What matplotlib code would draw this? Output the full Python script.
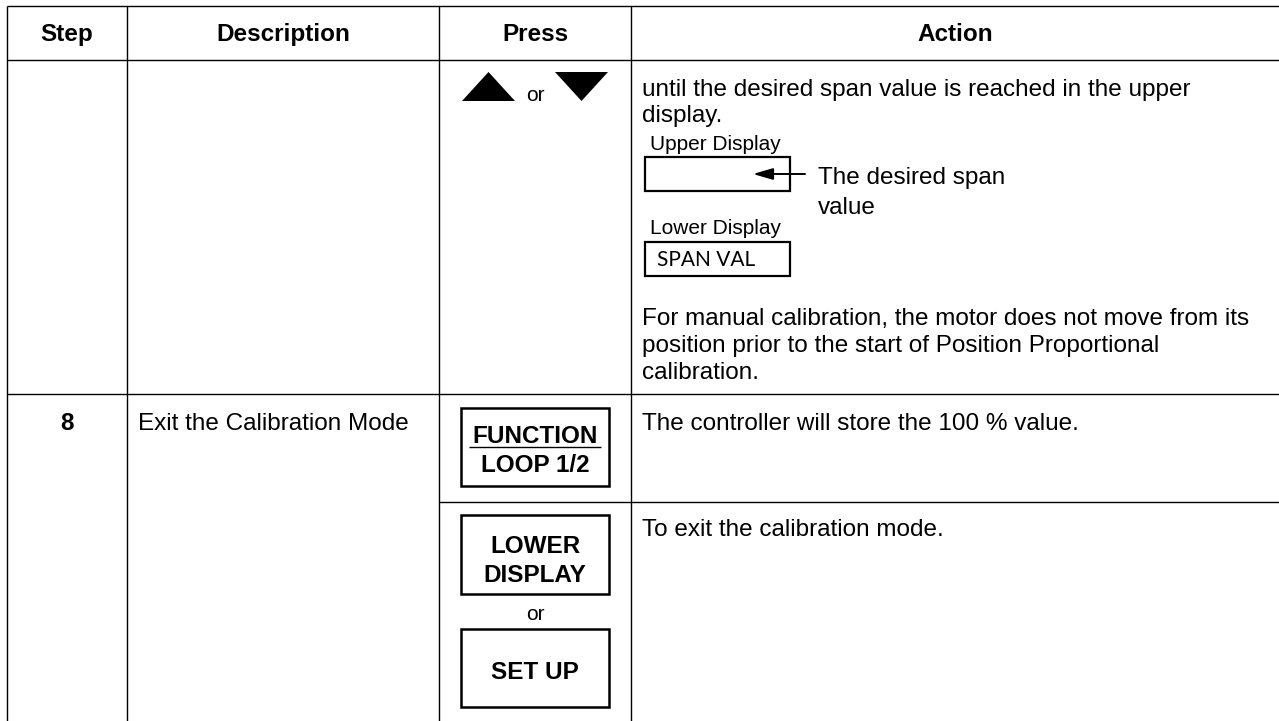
import matplotlib
matplotlib.use("Agg")
import matplotlib.pyplot as plt
from matplotlib.patches import Rectangle, Polygon

# ---- table content ----
headers = ["Step", "Description", "Press", "Action"]
step_numbers = ["", "8"]
descriptions = ["", "Exit the Calibration Mode"]
action_row1_para1 = ["until the desired span value is reached in the upper", "display."]
action_row1_para2 = ["For manual calibration, the motor does not move from its",
                     "position prior to the start of Position Proportional",
                     "calibration."]
upper_display_label = "Upper Display"
lower_display_label = "Lower Display"
lower_display_text = "SPAN VAL"
callout_text = ["The desired span", "value"]
press_or = "or"
key_function = ["FUNCTION", "LOOP 1/2"]
key_lower = ["LOWER", "DISPLAY"]
key_setup = "SET UP"
action_row2 = "The controller will store the 100 % value."
action_row3 = "To exit the calibration mode."

W, H = 1279, 721
fig = plt.figure(figsize=(W / 100, H / 100), dpi=100)
ax = fig.add_axes([0, 0, 1, 1])
ax.set_xlim(0, W)
ax.set_ylim(H, 0)
ax.axis("off")

FONT = "Liberation Sans"
BODY = 17.5
SMALL = 15
LW = 1.0

# column boundaries
x_left, x_c1, x_c2, x_c3, x_right = 7, 127, 439, 631, W
y_top, y_head, y_row1, y_sub = 6, 60, 394, 502

def hline(y, x0, x1):
    ax.plot([x0, x1], [y, y], color="black", lw=LW, solid_capstyle="butt")

def vline(x, y0, y1):
    ax.plot([x, x], [y0, y1], color="black", lw=LW, solid_capstyle="butt")

hline(y_top, x_left, x_right)
hline(y_head, x_left, x_right)
hline(y_row1, x_left, x_right)
hline(y_sub, x_c2, x_right)
for xv in (x_left, x_c1, x_c2, x_c3):
    vline(xv, y_top, H)

def txt(x, y, s, size=BODY, weight="normal", ha="left", family=FONT, **kw):
    ax.text(x, y, s, fontsize=size, fontweight=weight, ha=ha, va="baseline",
            family=family, color="black", **kw)

# header
head_x = [(x_left + x_c1) / 2, (x_c1 + x_c2) / 2, (x_c2 + x_c3) / 2, (x_c3 + x_right) / 2]
for hx, h in zip(head_x, headers):
    txt(hx, 41, h, weight="bold", ha="center")

pc = (x_c2 + x_c3) / 2
ax_ = x_c3 + 11

# row 1: press arrows
ax.add_patch(Polygon([[462, 101], [515, 101], [488.5, 72]], closed=True, color="black", lw=0))
ax.add_patch(Polygon([[555, 72], [608, 72], [581.5, 101]], closed=True, color="black", lw=0))
txt(pc, 101, press_or, size=SMALL, ha="center")

# row 1: action
for i, s in enumerate(action_row1_para1):
    txt(ax_, 96 + 26 * i, s)
txt(650, 150, upper_display_label, size=SMALL)
ax.add_patch(Rectangle((645, 157), 145, 34, fill=False, ec="black", lw=1.6))
ax.annotate("", xy=(753, 174), xytext=(805, 174),
            arrowprops=dict(arrowstyle="-|>,head_length=1.2,head_width=0.35", color="black", lw=1.4,
                            shrinkA=0, shrinkB=0))
txt(818, 184, callout_text[0])
txt(818, 214, callout_text[1])
txt(650, 234, lower_display_label, size=SMALL)
ax.add_patch(Rectangle((645, 242), 145, 34, fill=False, ec="black", lw=1.6))
txt(657, 266, lower_display_text, size=SMALL, family="Lato")
for i, s in enumerate(action_row1_para2):
    txt(ax_, 325 + 27 * i, s)

# row 2
txt((x_left + x_c1) / 2, 430, step_numbers[1], weight="bold", ha="center")
txt(x_c1 + 11, 430, descriptions[1])
ax.add_patch(Rectangle((461, 408), 148, 78, fill=False, ec="black", lw=1.8))
txt(pc, 443, key_function[0], weight="bold", ha="center")
hline(447, 469, 601)
txt(pc, 472, key_function[1], weight="bold", ha="center")
txt(ax_, 430, action_row2)

# row 3
ax.add_patch(Rectangle((461, 515), 148, 79, fill=False, ec="black", lw=1.8))
txt(pc, 553, key_lower[0], weight="bold", ha="center")
txt(pc, 582, key_lower[1], weight="bold", ha="center")
txt(pc, 620, press_or, size=SMALL, ha="center")
ax.add_patch(Rectangle((461, 629), 148, 78, fill=False, ec="black", lw=1.8))
txt(pc, 679, key_setup, weight="bold", ha="center")
txt(ax_, 536, action_row3)

fig.savefig("out.png", dpi=100)
